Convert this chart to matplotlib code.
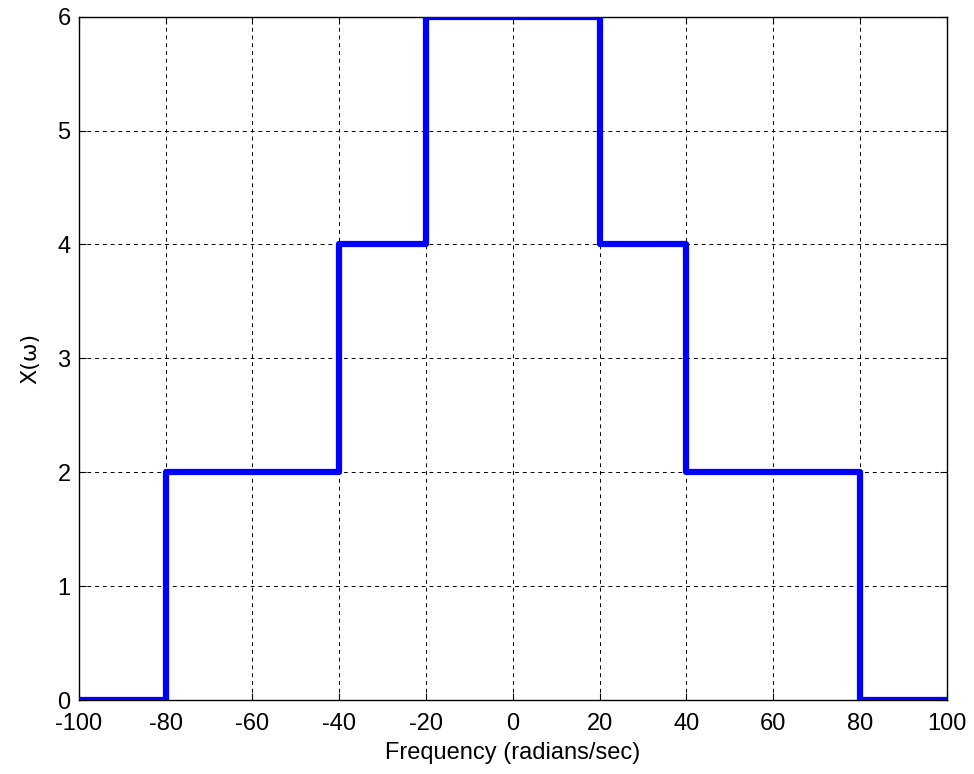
import matplotlib
matplotlib.use('Agg')
import matplotlib.pyplot as plt

# step edges (rad/s) and the level of X(w) starting at each edge
freq_edges = [-100, -80, -40, -20, 20, 40, 80, 100]
levels = [0, 2, 4, 6, 4, 2, 0, 0]

x_ticks = [-100, -80, -60, -40, -20, 0, 20, 40, 60, 80, 100]
y_ticks = [0, 1, 2, 3, 4, 5, 6]

plt.rcParams['font.family'] = ['Liberation Sans', 'DejaVu Sans']
plt.rcParams['font.size'] = 17
plt.rcParams['axes.unicode_minus'] = False

fig = plt.figure(figsize=(9.74, 7.74), dpi=100)
ax = fig.add_axes([0.081, 0.0955, 0.891, 0.883])

ax.step(freq_edges, levels, where='post', color='#0000ff', linewidth=4.5, zorder=3)

ax.set_xlim(-100, 100)
ax.set_ylim(0, 6)
ax.set_xticks(x_ticks)
ax.set_yticks(y_ticks)
ax.tick_params(direction='in', top=True, right=True, length=5, width=0.8)
ax.tick_params(axis='x', pad=9)
ax.tick_params(axis='y', pad=6)
ax.grid(True, color='black', linestyle=(0, (4, 4)), linewidth=0.7)
for s in ax.spines.values():
    s.set_linewidth(1.0)

ax.set_xlabel('Frequency (radians/sec)', labelpad=5)
ax.set_ylabel('X(ω)', labelpad=12, family=['DejaVu Sans'], fontsize=16)

fig.savefig('out.png', dpi=100)
